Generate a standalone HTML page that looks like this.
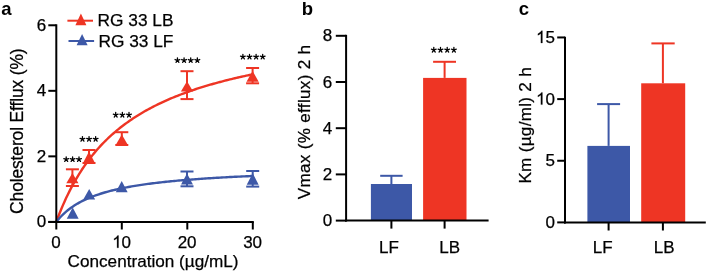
<!DOCTYPE html>
<html><head><meta charset="utf-8"><style>
html,body{margin:0;padding:0;background:#fff;}
svg{display:block;will-change:transform;}
text{font-family:"Liberation Sans",sans-serif;fill:#000;stroke:#000;stroke-width:0.25px;}
text.b{stroke-width:0;}
</style></head><body>
<svg width="708" height="272" viewBox="0 0 708 272">
<rect width="708" height="272" fill="#fff"/>
<text class="b" x="1.2" y="15.1" text-anchor="start" font-size="18.5" font-weight="bold" >a</text>
<polyline points="56.30,221.90 57.94,217.50 59.57,213.29 61.21,209.25 62.85,205.38 64.49,201.66 66.12,198.09 67.76,194.65 69.40,191.35 71.04,188.16 72.67,185.09 74.31,182.13 75.95,179.28 77.59,176.52 79.22,173.85 80.86,171.28 82.50,168.78 84.14,166.37 85.77,164.03 87.41,161.77 89.05,159.58 90.69,157.45 92.32,155.38 93.96,153.38 95.60,151.44 97.24,149.54 98.88,147.71 100.51,145.92 102.15,144.18 103.79,142.49 105.42,140.85 107.06,139.24 108.70,137.68 110.34,136.16 111.97,134.68 113.61,133.23 115.25,131.82 116.89,130.45 118.53,129.10 120.16,127.79 121.80,126.51 123.44,125.26 125.07,124.04 126.71,122.85 128.35,121.68 129.99,120.54 131.62,119.42 133.26,118.33 134.90,117.26 136.54,116.22 138.18,115.19 139.81,114.19 141.45,113.21 143.09,112.24 144.72,111.30 146.36,110.38 148.00,109.47 149.64,108.58 151.27,107.71 152.91,106.86 154.55,106.02 156.19,105.20 157.82,104.39 159.46,103.60 161.10,102.82 162.74,102.06 164.38,101.31 166.01,100.58 167.65,99.85 169.29,99.14 170.93,98.44 172.56,97.76 174.20,97.08 175.84,96.42 177.47,95.77 179.11,95.13 180.75,94.50 182.39,93.88 184.02,93.27 185.66,92.67 187.30,92.08 188.94,91.50 190.57,90.92 192.21,90.36 193.85,89.81 195.49,89.26 197.12,88.72 198.76,88.19 200.40,87.67 202.04,87.16 203.68,86.65 205.31,86.15 206.95,85.66 208.59,85.18 210.22,84.70 211.86,84.23 213.50,83.76 215.14,83.31 216.77,82.86 218.41,82.41 220.05,81.97 221.69,81.54 223.32,81.11 224.96,80.69 226.60,80.28 228.24,79.87 229.88,79.46 231.51,79.06 233.15,78.67 234.79,78.28 236.43,77.90 238.06,77.52 239.70,77.14 241.34,76.78 242.97,76.41 244.61,76.05 246.25,75.70 247.89,75.34 249.52,75.00 251.16,74.65 252.80,74.32" fill="none" stroke="#EE3524" stroke-width="2.4"/>
<polyline points="56.30,221.90 57.94,219.89 59.57,218.01 61.21,216.26 62.85,214.63 64.49,213.09 66.12,211.65 67.76,210.30 69.40,209.02 71.04,207.81 72.67,206.67 74.31,205.59 75.95,204.57 77.59,203.59 79.22,202.67 80.86,201.78 82.50,200.94 84.14,200.14 85.77,199.37 87.41,198.64 89.05,197.94 90.69,197.26 92.32,196.62 93.96,196.00 95.60,195.40 97.24,194.83 98.88,194.28 100.51,193.75 102.15,193.24 103.79,192.75 105.42,192.27 107.06,191.81 108.70,191.37 110.34,190.94 111.97,190.52 113.61,190.12 115.25,189.74 116.89,189.36 118.53,188.99 120.16,188.64 121.80,188.30 123.44,187.96 125.07,187.64 126.71,187.33 128.35,187.02 129.99,186.73 131.62,186.44 133.26,186.16 134.90,185.88 136.54,185.62 138.18,185.36 139.81,185.11 141.45,184.86 143.09,184.62 144.72,184.38 146.36,184.16 148.00,183.93 149.64,183.72 151.27,183.50 152.91,183.30 154.55,183.09 156.19,182.90 157.82,182.70 159.46,182.51 161.10,182.33 162.74,182.15 164.38,181.97 166.01,181.80 167.65,181.63 169.29,181.46 170.93,181.30 172.56,181.14 174.20,180.98 175.84,180.83 177.47,180.68 179.11,180.53 180.75,180.39 182.39,180.25 184.02,180.11 185.66,179.97 187.30,179.84 188.94,179.71 190.57,179.58 192.21,179.45 193.85,179.33 195.49,179.20 197.12,179.09 198.76,178.97 200.40,178.85 202.04,178.74 203.68,178.63 205.31,178.52 206.95,178.41 208.59,178.30 210.22,178.20 211.86,178.10 213.50,177.99 215.14,177.90 216.77,177.80 218.41,177.70 220.05,177.61 221.69,177.51 223.32,177.42 224.96,177.33 226.60,177.24 228.24,177.15 229.88,177.07 231.51,176.98 233.15,176.90 234.79,176.82 236.43,176.74 238.06,176.66 239.70,176.58 241.34,176.50 242.97,176.42 244.61,176.35 246.25,176.27 247.89,176.20 249.52,176.13 251.16,176.05 252.80,175.98" fill="none" stroke="#3D58A7" stroke-width="2.4"/>
<line x1="72.4" y1="169.3" x2="72.4" y2="186.0" stroke="#EE3524" stroke-width="2"/>
<line x1="65.9" y1="169.3" x2="78.9" y2="169.3" stroke="#EE3524" stroke-width="2"/>
<line x1="65.9" y1="186.0" x2="78.9" y2="186.0" stroke="#EE3524" stroke-width="2"/>
<polygon points="72.4,173.0 66.30000000000001,183.2 78.5,183.2" fill="#EE3524"/>
<line x1="89.0" y1="150.0" x2="89.0" y2="163.0" stroke="#EE3524" stroke-width="2"/>
<line x1="82.5" y1="150.0" x2="95.5" y2="150.0" stroke="#EE3524" stroke-width="2"/>
<line x1="82.5" y1="163.0" x2="95.5" y2="163.0" stroke="#EE3524" stroke-width="2"/>
<polygon points="89.0,151.6 82.9,163.2 95.1,163.2" fill="#EE3524"/>
<line x1="121.8" y1="132.2" x2="121.8" y2="145.0" stroke="#EE3524" stroke-width="2"/>
<line x1="115.3" y1="132.2" x2="128.3" y2="132.2" stroke="#EE3524" stroke-width="2"/>
<line x1="115.3" y1="145.0" x2="128.3" y2="145.0" stroke="#EE3524" stroke-width="2"/>
<polygon points="121.8,134.6 115.7,145.0 127.89999999999999,145.0" fill="#EE3524"/>
<line x1="187.0" y1="71.2" x2="187.0" y2="99.1" stroke="#EE3524" stroke-width="2"/>
<line x1="180.5" y1="71.2" x2="193.5" y2="71.2" stroke="#EE3524" stroke-width="2"/>
<line x1="180.5" y1="99.1" x2="193.5" y2="99.1" stroke="#EE3524" stroke-width="2"/>
<polygon points="187.0,81.3 180.9,91.6 193.1,91.6" fill="#EE3524"/>
<line x1="252.6" y1="68.0" x2="252.6" y2="83.3" stroke="#EE3524" stroke-width="2"/>
<line x1="246.1" y1="68.0" x2="259.1" y2="68.0" stroke="#EE3524" stroke-width="2"/>
<line x1="246.1" y1="83.3" x2="259.1" y2="83.3" stroke="#EE3524" stroke-width="2"/>
<polygon points="252.6,71.0 246.5,81.7 258.7,81.7" fill="#EE3524"/>
<polygon points="72.7,207.6 66.75,218.8 78.65,218.8" fill="#3D58A7"/>
<polygon points="89.2,188.9 83.25,199.6 95.15,199.6" fill="#3D58A7"/>
<polygon points="121.7,180.9 115.75,192.3 127.65,192.3" fill="#3D58A7"/>
<line x1="187.0" y1="171.5" x2="187.0" y2="186.3" stroke="#3D58A7" stroke-width="2"/>
<line x1="180.5" y1="171.5" x2="193.5" y2="171.5" stroke="#3D58A7" stroke-width="2"/>
<line x1="180.5" y1="186.3" x2="193.5" y2="186.3" stroke="#3D58A7" stroke-width="2"/>
<polygon points="187.0,173.4 181.05,184.5 192.95,184.5" fill="#3D58A7"/>
<line x1="252.7" y1="171.0" x2="252.7" y2="186.6" stroke="#3D58A7" stroke-width="2"/>
<line x1="246.2" y1="171.0" x2="259.2" y2="171.0" stroke="#3D58A7" stroke-width="2"/>
<line x1="246.2" y1="186.6" x2="259.2" y2="186.6" stroke="#3D58A7" stroke-width="2"/>
<polygon points="252.7,173.2 246.75,184.7 258.65,184.7" fill="#3D58A7"/>
<line x1="56.3" y1="24.3" x2="56.3" y2="229.5" stroke="#000" stroke-width="2"/>
<line x1="48.3" y1="221.9" x2="253.8" y2="221.9" stroke="#000" stroke-width="2"/>
<line x1="48.3" y1="221.9" x2="56.3" y2="221.9" stroke="#000" stroke-width="2"/>
<text x="36.65" y="227.3" text-anchor="start" font-size="17" font-weight="normal" >0</text>
<line x1="48.3" y1="156.36" x2="56.3" y2="156.36" stroke="#000" stroke-width="2"/>
<text x="36.65" y="161.76000000000002" text-anchor="start" font-size="17" font-weight="normal" >2</text>
<line x1="48.3" y1="90.82" x2="56.3" y2="90.82" stroke="#000" stroke-width="2"/>
<text x="36.65" y="96.22" text-anchor="start" font-size="17" font-weight="normal" >4</text>
<line x1="48.3" y1="25.28" x2="56.3" y2="25.28" stroke="#000" stroke-width="2"/>
<text x="36.65" y="30.68" text-anchor="start" font-size="17" font-weight="normal" >6</text>
<line x1="121.8" y1="221.9" x2="121.8" y2="229.5" stroke="#000" stroke-width="2"/>
<line x1="187.3" y1="221.9" x2="187.3" y2="229.5" stroke="#000" stroke-width="2"/>
<line x1="252.8" y1="221.9" x2="252.8" y2="229.5" stroke="#000" stroke-width="2"/>
<text x="51.37" y="247.8" text-anchor="start" font-size="17" font-weight="normal" >0</text>
<path d="M376 0L288 0L288 560Q256 529 204.5 499Q153 469 112 454L112 539Q186 574 241.5 623.5Q297 673 320 719L376 719Z" transform="translate(112.15,247.8) scale(0.0170,-0.0170)" fill="#000" stroke="#000" stroke-width="14.7"/>
<text x="121.6" y="247.8" text-anchor="start" font-size="17" font-weight="normal" >0</text>
<text x="177.65" y="247.8" text-anchor="start" font-size="17" font-weight="normal" >2</text>
<text x="187.1" y="247.8" text-anchor="start" font-size="17" font-weight="normal" >0</text>
<text x="243.15" y="247.8" text-anchor="start" font-size="17" font-weight="normal" >3</text>
<text x="252.6" y="247.8" text-anchor="start" font-size="17" font-weight="normal" >0</text>
<text x="67.6" y="266.6" text-anchor="start" font-size="17.15" font-weight="normal" >Concentration (µg/mL)</text>
<text transform="translate(22.9,213.9) rotate(-90)" font-size="17.5" letter-spacing="-0.16">Cholesterol Efflux (%)</text>
<path d="M66.20,159.40L66.20,156.90M66.20,159.40L68.58,158.63M66.20,159.40L67.67,161.42M66.20,159.40L64.73,161.42M66.20,159.40L63.82,158.63" stroke="#000" stroke-width="1.3" stroke-linecap="round" fill="none"/>
<path d="M72.60,159.40L72.60,156.90M72.60,159.40L74.98,158.63M72.60,159.40L74.07,161.42M72.60,159.40L71.13,161.42M72.60,159.40L70.22,158.63" stroke="#000" stroke-width="1.3" stroke-linecap="round" fill="none"/>
<path d="M79.00,159.40L79.00,156.90M79.00,159.40L81.38,158.63M79.00,159.40L80.47,161.42M79.00,159.40L77.53,161.42M79.00,159.40L76.62,158.63" stroke="#000" stroke-width="1.3" stroke-linecap="round" fill="none"/>
<path d="M82.45,139.10L82.45,136.60M82.45,139.10L84.83,138.33M82.45,139.10L83.92,141.12M82.45,139.10L80.98,141.12M82.45,139.10L80.07,138.33" stroke="#000" stroke-width="1.3" stroke-linecap="round" fill="none"/>
<path d="M89.05,139.10L89.05,136.60M89.05,139.10L91.43,138.33M89.05,139.10L90.52,141.12M89.05,139.10L87.58,141.12M89.05,139.10L86.67,138.33" stroke="#000" stroke-width="1.3" stroke-linecap="round" fill="none"/>
<path d="M95.65,139.10L95.65,136.60M95.65,139.10L98.03,138.33M95.65,139.10L97.12,141.12M95.65,139.10L94.18,141.12M95.65,139.10L93.27,138.33" stroke="#000" stroke-width="1.3" stroke-linecap="round" fill="none"/>
<path d="M115.70,115.00L115.70,112.50M115.70,115.00L118.08,114.23M115.70,115.00L117.17,117.02M115.70,115.00L114.23,117.02M115.70,115.00L113.32,114.23" stroke="#000" stroke-width="1.3" stroke-linecap="round" fill="none"/>
<path d="M122.35,115.00L122.35,112.50M122.35,115.00L124.73,114.23M122.35,115.00L123.82,117.02M122.35,115.00L120.88,117.02M122.35,115.00L119.97,114.23" stroke="#000" stroke-width="1.3" stroke-linecap="round" fill="none"/>
<path d="M129.00,115.00L129.00,112.50M129.00,115.00L131.38,114.23M129.00,115.00L130.47,117.02M129.00,115.00L127.53,117.02M129.00,115.00L126.62,114.23" stroke="#000" stroke-width="1.3" stroke-linecap="round" fill="none"/>
<path d="M177.45,60.30L177.45,57.80M177.45,60.30L179.83,59.53M177.45,60.30L178.92,62.32M177.45,60.30L175.98,62.32M177.45,60.30L175.07,59.53" stroke="#000" stroke-width="1.3" stroke-linecap="round" fill="none"/>
<path d="M184.08,60.30L184.08,57.80M184.08,60.30L186.46,59.53M184.08,60.30L185.55,62.32M184.08,60.30L182.61,62.32M184.08,60.30L181.70,59.53" stroke="#000" stroke-width="1.3" stroke-linecap="round" fill="none"/>
<path d="M190.71,60.30L190.71,57.80M190.71,60.30L193.09,59.53M190.71,60.30L192.18,62.32M190.71,60.30L189.24,62.32M190.71,60.30L188.33,59.53" stroke="#000" stroke-width="1.3" stroke-linecap="round" fill="none"/>
<path d="M197.34,60.30L197.34,57.80M197.34,60.30L199.72,59.53M197.34,60.30L198.81,62.32M197.34,60.30L195.87,62.32M197.34,60.30L194.96,59.53" stroke="#000" stroke-width="1.3" stroke-linecap="round" fill="none"/>
<path d="M242.90,56.90L242.90,54.40M242.90,56.90L245.28,56.13M242.90,56.90L244.37,58.92M242.90,56.90L241.43,58.92M242.90,56.90L240.52,56.13" stroke="#000" stroke-width="1.3" stroke-linecap="round" fill="none"/>
<path d="M249.50,56.90L249.50,54.40M249.50,56.90L251.88,56.13M249.50,56.90L250.97,58.92M249.50,56.90L248.03,58.92M249.50,56.90L247.12,56.13" stroke="#000" stroke-width="1.3" stroke-linecap="round" fill="none"/>
<path d="M256.10,56.90L256.10,54.40M256.10,56.90L258.48,56.13M256.10,56.90L257.57,58.92M256.10,56.90L254.63,58.92M256.10,56.90L253.72,56.13" stroke="#000" stroke-width="1.3" stroke-linecap="round" fill="none"/>
<path d="M262.70,56.90L262.70,54.40M262.70,56.90L265.08,56.13M262.70,56.90L264.17,58.92M262.70,56.90L261.23,58.92M262.70,56.90L260.32,56.13" stroke="#000" stroke-width="1.3" stroke-linecap="round" fill="none"/>
<line x1="67.4" y1="20.7" x2="93.0" y2="20.7" stroke="#EE3524" stroke-width="2"/>
<polygon points="80.9,13.6 75.4,25.2 86.4,25.2" fill="#EE3524"/>
<text x="97.6" y="26.4" text-anchor="start" font-size="17.3" font-weight="normal" >RG 33 LB</text>
<line x1="68.5" y1="41.0" x2="94.1" y2="41.0" stroke="#3D58A7" stroke-width="2"/>
<polygon points="82.1,34.0 76.6,45.3 87.6,45.3" fill="#3D58A7"/>
<text x="98.5" y="47.4" text-anchor="start" font-size="17.3" font-weight="normal" >RG 33 LF</text>
<text class="b" x="301.8" y="15.1" text-anchor="start" font-size="18.5" font-weight="bold" >b</text>
<rect x="370.9" y="184.0" width="41.1" height="36.599999999999994" fill="#3D58A7"/>
<rect x="423.1" y="77.9" width="43.4" height="142.7" fill="#EE3524"/>
<line x1="391.4" y1="175.9" x2="391.4" y2="184.0" stroke="#3D58A7" stroke-width="2"/>
<line x1="380.2" y1="175.8" x2="402.6" y2="175.8" stroke="#3D58A7" stroke-width="2"/>
<line x1="444.6" y1="61.8" x2="444.6" y2="77.9" stroke="#EE3524" stroke-width="2"/>
<line x1="433.1" y1="61.8" x2="456.0" y2="61.8" stroke="#EE3524" stroke-width="2"/>
<line x1="346.1" y1="34.8" x2="346.1" y2="221.6" stroke="#000" stroke-width="2"/>
<line x1="345.1" y1="220.6" x2="488.6" y2="220.6" stroke="#000" stroke-width="2"/>
<line x1="335.8" y1="220.6" x2="346.1" y2="220.6" stroke="#000" stroke-width="2"/>
<text x="322.75" y="226.1" text-anchor="start" font-size="17" font-weight="normal" >0</text>
<line x1="335.8" y1="174.39999999999998" x2="346.1" y2="174.39999999999998" stroke="#000" stroke-width="2"/>
<text x="322.75" y="179.89999999999998" text-anchor="start" font-size="17" font-weight="normal" >2</text>
<line x1="335.8" y1="128.2" x2="346.1" y2="128.2" stroke="#000" stroke-width="2"/>
<text x="322.75" y="133.7" text-anchor="start" font-size="17" font-weight="normal" >4</text>
<line x1="335.8" y1="81.99999999999997" x2="346.1" y2="81.99999999999997" stroke="#000" stroke-width="2"/>
<text x="322.75" y="87.49999999999997" text-anchor="start" font-size="17" font-weight="normal" >6</text>
<line x1="335.8" y1="35.79999999999998" x2="346.1" y2="35.79999999999998" stroke="#000" stroke-width="2"/>
<text x="322.75" y="41.29999999999998" text-anchor="start" font-size="17" font-weight="normal" >8</text>
<line x1="391.4" y1="220.6" x2="391.4" y2="228.6" stroke="#000" stroke-width="2"/>
<line x1="444.6" y1="220.6" x2="444.6" y2="228.6" stroke="#000" stroke-width="2"/>
<text x="388.9" y="252.8" text-anchor="middle" font-size="17" font-weight="normal" >LF</text>
<text x="449.6" y="252.8" text-anchor="middle" font-size="17" font-weight="normal" >LB</text>
<path d="M433.80,50.00L433.80,47.50M433.80,50.00L436.18,49.23M433.80,50.00L435.27,52.02M433.80,50.00L432.33,52.02M433.80,50.00L431.42,49.23" stroke="#000" stroke-width="1.3" stroke-linecap="round" fill="none"/>
<path d="M440.50,50.00L440.50,47.50M440.50,50.00L442.88,49.23M440.50,50.00L441.97,52.02M440.50,50.00L439.03,52.02M440.50,50.00L438.12,49.23" stroke="#000" stroke-width="1.3" stroke-linecap="round" fill="none"/>
<path d="M447.20,50.00L447.20,47.50M447.20,50.00L449.58,49.23M447.20,50.00L448.67,52.02M447.20,50.00L445.73,52.02M447.20,50.00L444.82,49.23" stroke="#000" stroke-width="1.3" stroke-linecap="round" fill="none"/>
<path d="M453.90,50.00L453.90,47.50M453.90,50.00L456.28,49.23M453.90,50.00L455.37,52.02M453.90,50.00L452.43,52.02M453.90,50.00L451.52,49.23" stroke="#000" stroke-width="1.3" stroke-linecap="round" fill="none"/>
<text transform="translate(310.2,199.2) rotate(-90)" font-size="17.1" letter-spacing="0.3">Vmax (% efflux) 2 h</text>
<text class="b" x="518.7" y="15.1" text-anchor="start" font-size="18.5" font-weight="bold" >c</text>
<rect x="587.4" y="145.9" width="42.6" height="76.5" fill="#3D58A7"/>
<rect x="641.2" y="83.3" width="44.0" height="139.10000000000002" fill="#EE3524"/>
<line x1="608.6" y1="104.1" x2="608.6" y2="145.9" stroke="#3D58A7" stroke-width="2"/>
<line x1="597.1" y1="104.1" x2="620.1" y2="104.1" stroke="#3D58A7" stroke-width="2"/>
<line x1="662.9" y1="43.4" x2="662.9" y2="83.3" stroke="#EE3524" stroke-width="2"/>
<line x1="651.4" y1="43.4" x2="674.7" y2="43.4" stroke="#EE3524" stroke-width="2"/>
<line x1="565.0" y1="36.7" x2="565.0" y2="223.4" stroke="#000" stroke-width="2"/>
<line x1="564.0" y1="222.4" x2="705.8" y2="222.4" stroke="#000" stroke-width="2"/>
<line x1="557.2" y1="222.4" x2="565.0" y2="222.4" stroke="#000" stroke-width="2"/>
<text x="545.45" y="227.9" text-anchor="start" font-size="17" font-weight="normal" >0</text>
<line x1="557.2" y1="160.75" x2="565.0" y2="160.75" stroke="#000" stroke-width="2"/>
<text x="545.45" y="166.25" text-anchor="start" font-size="17" font-weight="normal" >5</text>
<line x1="557.2" y1="99.10000000000001" x2="565.0" y2="99.10000000000001" stroke="#000" stroke-width="2"/>
<path d="M376 0L288 0L288 560Q256 529 204.5 499Q153 469 112 454L112 539Q186 574 241.5 623.5Q297 673 320 719L376 719Z" transform="translate(536.00,104.60000000000001) scale(0.0170,-0.0170)" fill="#000" stroke="#000" stroke-width="14.7"/>
<text x="545.45" y="104.60000000000001" text-anchor="start" font-size="17" font-weight="normal" >0</text>
<line x1="557.2" y1="37.45000000000002" x2="565.0" y2="37.45000000000002" stroke="#000" stroke-width="2"/>
<path d="M376 0L288 0L288 560Q256 529 204.5 499Q153 469 112 454L112 539Q186 574 241.5 623.5Q297 673 320 719L376 719Z" transform="translate(536.00,42.95000000000002) scale(0.0170,-0.0170)" fill="#000" stroke="#000" stroke-width="14.7"/>
<text x="545.45" y="42.95000000000002" text-anchor="start" font-size="17" font-weight="normal" >5</text>
<line x1="608.6" y1="222.4" x2="608.6" y2="230.5" stroke="#000" stroke-width="2"/>
<line x1="662.9" y1="222.4" x2="662.9" y2="230.5" stroke="#000" stroke-width="2"/>
<text x="602.6" y="253.0" text-anchor="middle" font-size="17" font-weight="normal" >LF</text>
<text x="664.1" y="253.0" text-anchor="middle" font-size="17" font-weight="normal" >LB</text>
<text transform="translate(531.1,183.6) rotate(-90)" font-size="17.1" letter-spacing="0.3">Km (µg/ml) 2 h</text>
</svg>
</body></html>
